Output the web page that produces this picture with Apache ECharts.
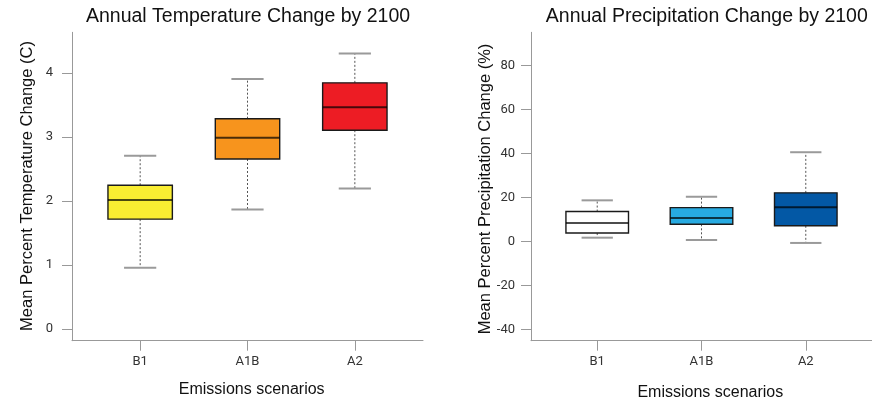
<!DOCTYPE html>
<html>
<head>
<meta charset="utf-8">
<script src="https://cdn.jsdelivr.net/npm/echarts@6/dist/echarts.min.js"></script>
<style>
  html, body { margin: 0; padding: 0; background: #fff; }
  #chart { width: 872px; height: 402px; }
</style>
</head>
<body>
<div id="chart"></div>
<script>
// ---- Data ----
const scenarios = ['B1', 'A1B', 'A2'];

const tempLow    = [0.96, 1.87, 2.20];
const tempQ1     = [1.72, 2.66, 3.11];
const tempMedian = [2.02, 2.99, 3.47];
const tempQ3     = [2.25, 3.29, 3.85];
const tempHigh   = [2.71, 3.91, 4.31];

const precLow    = [1.7, 0.7, -0.7];
const precQ1     = [3.8, 7.8, 7.1];
const precMedian = [8.4, 10.7, 15.6];
const precQ3     = [13.6, 15.4, 22.1];
const precHigh   = [18.7, 20.3, 40.6];

const tempTicks = [0, 1, 2, 3, 4];
const precTicks = [-40, -20, 0, 20, 40, 60, 80];

// ---- Styles ----
const tempColors = ['#F9ED32', '#F7941D', '#ED1C24'];
const precColors = ['#FFFFFF', '#27AAE1', '#0358A5'];

function rows(low, q1, med, q3, high) {
  return scenarios.map((s, i) => [i + 1, low[i], q1[i], med[i], q3[i], high[i]]);
}

function makeRender(colors) {
  return function (params, api) {
    const x = api.value(0);
    const pLow = api.coord([x, api.value(1)]);
    const pQ1 = api.coord([x, api.value(2)]);
    const pMed = api.coord([x, api.value(3)]);
    const pQ3 = api.coord([x, api.value(4)]);
    const pHigh = api.coord([x, api.value(5)]);
    const half = api.size([0.6, 0])[0] / 2;
    const capHalf = api.size([0.3, 0])[0] / 2;
    const cx = pMed[0];
    const whiskerStyle = { stroke: '#555', lineWidth: 1, lineDash: [2, 2] };
    const capStyle = { stroke: '#9a9a9a', lineWidth: 2 };
    return {
      type: 'group',
      children: [
        { type: 'line', shape: { x1: cx, y1: pQ3[1], x2: cx, y2: pHigh[1] }, style: whiskerStyle },
        { type: 'line', shape: { x1: cx, y1: pQ1[1], x2: cx, y2: pLow[1] }, style: whiskerStyle },
        { type: 'line', shape: { x1: cx - capHalf, y1: pHigh[1], x2: cx + capHalf, y2: pHigh[1] }, style: capStyle },
        { type: 'line', shape: { x1: cx - capHalf, y1: pLow[1], x2: cx + capHalf, y2: pLow[1] }, style: capStyle },
        { type: 'rect', shape: { x: cx - half, y: pQ3[1], width: 2 * half, height: pQ1[1] - pQ3[1] },
          style: { fill: colors[params.dataIndex], stroke: '#1a1a1a', lineWidth: 1.4 } },
        { type: 'line', shape: { x1: cx - half, y1: pMed[1], x2: cx + half, y2: pMed[1] },
          style: { stroke: 'rgba(0,0,0,0.7)', lineWidth: 2 } }
      ]
    };
  };
}

const tickFont = { fontFamily: 'Roboto', fontSize: 13, color: '#333' };
const axisGray = '#999';

function xAxisDef(gridIndex) {
  return {
    type: 'value', gridIndex, min: 0.365, max: 3.635,
    axisLine: { onZero: false, lineStyle: { color: axisGray, width: 1 } },
    axisTick: { show: true, inside: false, length: 10, customValues: [1, 2, 3], lineStyle: { color: axisGray } },
    axisLabel: Object.assign({ margin: 15, customValues: [1, 2, 3], formatter: v => scenarios[Math.round(v) - 1] }, tickFont),
    splitLine: { show: false }
  };
}
function yAxisDef(gridIndex, min, max, ticks, margin) {
  return {
    type: 'value', gridIndex, min, max,
    axisLine: { show: true, onZero: false, lineStyle: { color: axisGray, width: 1 } },
    axisTick: { show: true, inside: false, length: 10, customValues: ticks, lineStyle: { color: axisGray } },
    axisLabel: Object.assign({ margin, customValues: ticks }, tickFont),
    splitLine: { show: false }
  };
}

const titleFont = 'normal 19.5px "Liberation Sans", Arial, sans-serif';
const axisTitleFont = 'normal 16.5px "Liberation Sans", Arial, sans-serif';
const xTitleFont = 'normal 16px "Liberation Sans", Arial, sans-serif';

function txt(text, x, y, font, rot) {
  return { type: 'text', x, y, rotation: rot || 0,
    style: { text, font, fill: '#111', align: 'center', verticalAlign: 'middle' } };
}

const chart = echarts.init(document.getElementById('chart'), null, { renderer: 'canvas' });
chart.setOption({
  animation: false,
  backgroundColor: '#fff',
  grid: [
    { left: 72, top: 32.3, width: 351, height: 308.4 },
    { left: 531, top: 32.3, width: 351.5, height: 308.4 }
  ],
  xAxis: [xAxisDef(0), xAxisDef(1)],
  yAxis: [
    yAxisDef(0, -0.18, 4.64, tempTicks, 19),
    yAxisDef(1, -45.2, 95.2, precTicks, 16)
  ],
  series: [
    { type: 'custom', xAxisIndex: 0, yAxisIndex: 0, renderItem: makeRender(tempColors),
      data: rows(tempLow, tempQ1, tempMedian, tempQ3, tempHigh), encode: { x: 0, y: [1, 2, 3, 4, 5] } },
    { type: 'custom', xAxisIndex: 1, yAxisIndex: 1, renderItem: makeRender(precColors),
      data: rows(precLow, precQ1, precMedian, precQ3, precHigh), encode: { x: 0, y: [1, 2, 3, 4, 5] } }
  ],
  graphic: [
    txt('Annual Temperature Change by 2100', 248, 17, titleFont),
    txt('Annual Precipitation Change by 2100', 706.8, 17, titleFont),
    txt('Mean Percent Temperature Change (C)', 27, 186, axisTitleFont, Math.PI / 2),
    txt('Mean Percent Precipitation Change (%)', 485.5, 189, axisTitleFont, Math.PI / 2),
    txt('Emissions scenarios', 251.7, 390, xTitleFont),
    txt('Emissions scenarios', 710.3, 393, xTitleFont)
  ]
});
</script>
</body>
</html>
